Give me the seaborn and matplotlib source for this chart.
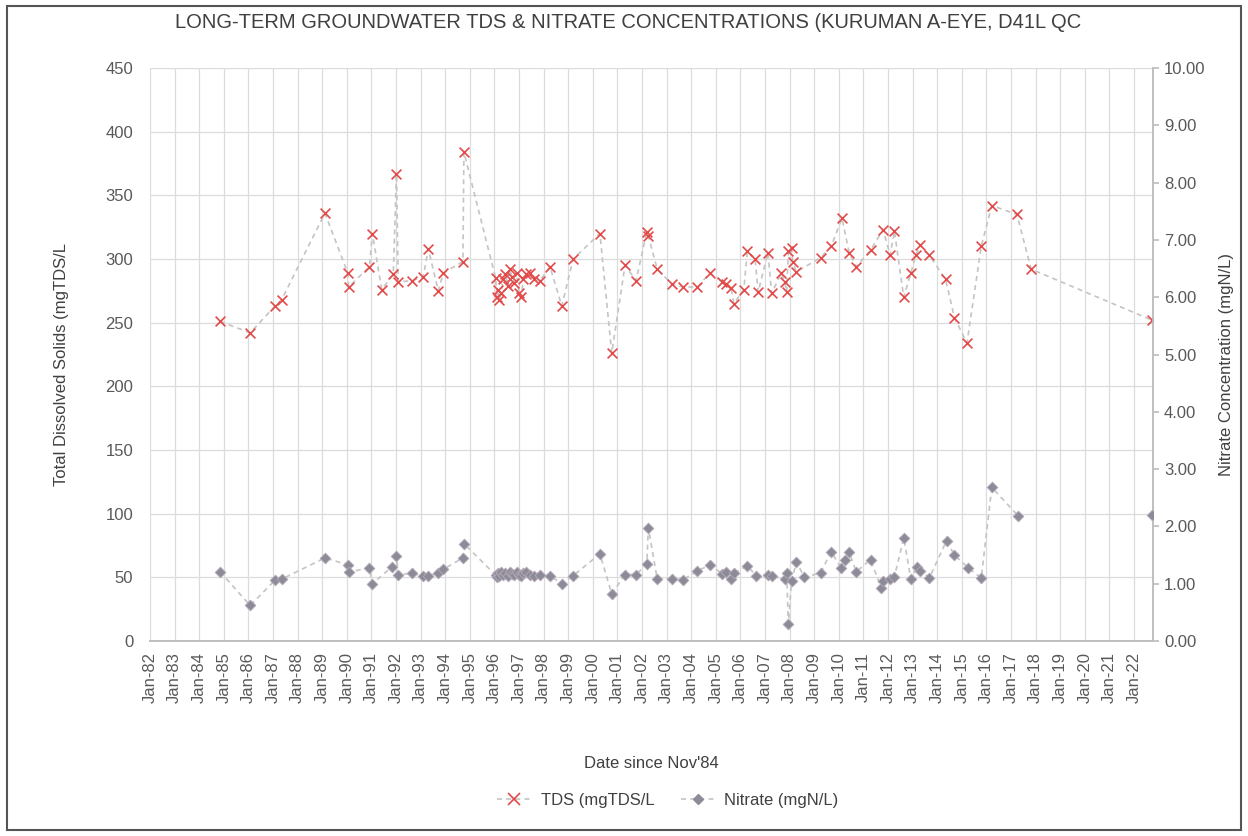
import matplotlib
matplotlib.use("Agg")
import matplotlib.pyplot as plt
from matplotlib.lines import Line2D
from matplotlib.patches import Rectangle
import pandas as pd
import seaborn as sns

# sample dates in decimal years
tds_dates = [1984.85, 1986.07, 1987.08, 1987.35, 1989.11, 1990.04, 1990.08, 1990.92,
             1991.04, 1991.42, 1991.89, 1992.02, 1992.09, 1992.64, 1993.11, 1993.31,
             1993.72, 1993.92, 1994.72, 1994.76,
             1996.05, 1996.10, 1996.15, 1996.20, 1996.28, 1996.35, 1996.45, 1996.55,
             1996.62, 1996.72, 1996.80, 1996.90, 1997.00, 1997.08, 1997.18, 1997.30,
             1997.45, 1997.60, 1997.85,
             1998.26, 1998.74, 1999.20, 2000.29, 2000.77, 2001.31, 2001.76, 2002.19,
             2002.26, 2002.62, 2003.23, 2003.67, 2004.25, 2004.76, 2005.27, 2005.41,
             2005.63, 2005.73, 2006.14, 2006.28, 2006.60, 2006.72, 2007.12, 2007.27,
             2007.66, 2007.80, 2007.88, 2007.95, 2008.08, 2008.12, 2008.28, 2009.26,
             2009.69, 2010.13, 2010.42, 2010.71, 2011.29, 2011.80, 2012.09, 2012.26,
             2012.64, 2012.93, 2013.13, 2013.32, 2013.68, 2014.34, 2014.70, 2015.21,
             2015.79, 2016.22, 2017.24, 2017.82, 2022.73]
tds_values = [251, 242, 263, 268, 336, 289, 278, 294,
              320, 276, 288, 367, 282, 283, 286, 308,
              275, 289, 298, 384,
              285, 270, 276, 268, 273, 284, 288, 279,
              292, 286, 281, 289, 273, 270, 284, 288,
              289, 284, 283,
              294, 263, 300, 320, 226, 295, 283, 321,
              318, 292, 280, 278, 278, 289, 282, 280,
              277, 265, 276, 306, 300, 274, 305, 273,
              289, 282, 274, 306, 309, 298, 290, 301,
              310, 332, 305, 294, 307, 323, 303, 322,
              270, 289, 303, 311, 303, 284, 254, 234,
              310, 342, 335, 292, 252]

no3_dates = [1984.85, 1986.07, 1987.08, 1987.35, 1989.11, 1990.04, 1990.08, 1990.92,
             1991.04, 1991.85, 1992.02, 1992.09, 1992.64, 1993.11, 1993.31, 1993.72,
             1993.92, 1994.72, 1994.76,
             1996.05, 1996.10, 1996.15, 1996.20, 1996.28, 1996.35, 1996.45, 1996.55,
             1996.62, 1996.72, 1996.80, 1996.90, 1997.00, 1997.08, 1997.18, 1997.30,
             1997.45, 1997.60, 1997.85,
             1998.26, 1998.74, 1999.20, 2000.29, 2000.77, 2001.31, 2001.76, 2002.19,
             2002.26, 2002.62, 2003.23, 2003.67, 2004.25, 2004.76, 2005.27, 2005.41,
             2005.63, 2005.73, 2006.28, 2006.64, 2007.12, 2007.27, 2007.80, 2007.88,
             2007.95, 2008.08, 2008.28, 2008.60, 2009.26, 2009.69, 2010.08, 2010.27,
             2010.42, 2010.71, 2011.29, 2011.73, 2011.80, 2012.09, 2012.26, 2012.64,
             2012.93, 2013.18, 2013.32, 2013.68, 2014.38, 2014.70, 2015.25, 2015.79,
             2016.22, 2017.28, 2022.73]
no3_values = [1.21, 0.62, 1.06, 1.08, 1.45, 1.33, 1.20, 1.28,
              1.00, 1.30, 1.48, 1.16, 1.18, 1.13, 1.14, 1.18,
              1.25, 1.45, 1.70,
              1.15, 1.12, 1.18, 1.14, 1.20, 1.16, 1.19, 1.13,
              1.21, 1.17, 1.15, 1.20, 1.16, 1.13, 1.18, 1.21,
              1.16, 1.14, 1.15,
              1.14, 1.00, 1.14, 1.52, 0.82, 1.16, 1.16, 1.34,
              1.97, 1.08, 1.08, 1.07, 1.22, 1.33, 1.17, 1.20,
              1.08, 1.18, 1.31, 1.14, 1.16, 1.13, 1.08, 1.18,
              0.30, 1.05, 1.38, 1.11, 1.19, 1.56, 1.28, 1.41,
              1.55, 1.21, 1.42, 0.92, 1.05, 1.08, 1.12, 1.80,
              1.08, 1.29, 1.23, 1.10, 1.75, 1.50, 1.28, 1.10,
              2.68, 2.19, 2.20]

years = list(range(1982, 2023))
year_labels = [f"Jan-{y % 100:02d}" for y in years]

tds = pd.DataFrame({"date": tds_dates, "TDS": tds_values})
no3 = pd.DataFrame({"date": no3_dates, "Nitrate": no3_values})

sns.set_theme(style="whitegrid")
plt.rcParams['font.family'] = ['Liberation Sans', 'DejaVu Sans']

tick_col = '#595959'
grid_col = '#dcdcdc'
line_col = '#c4c4c4'
tds_col = '#e34a4a'
no3_col = '#8c8c98'
dash = (0, (3, 2.5))

fig = plt.figure(figsize=(12.48, 8.36), dpi=100)
ax = fig.add_axes([150 / 1248, 1 - 641 / 836, (1153 - 150) / 1248, (641 - 68) / 836])
ax2 = ax.twinx()

# TDS on left axis
sns.lineplot(data=tds, x="date", y="TDS", ax=ax, estimator=None, color=line_col,
             linestyle=dash, linewidth=1.2)
sns.scatterplot(data=tds, x="date", y="TDS", ax=ax, marker="x", color=tds_col,
                s=50, linewidth=1.2, zorder=4)

# Nitrate on right axis (line stops after 2017, last sample stands alone)
sns.lineplot(data=no3.iloc[:-1], x="date", y="Nitrate", ax=ax2, estimator=None,
             color=line_col, linestyle=dash, linewidth=1.2)
sns.scatterplot(data=no3, x="date", y="Nitrate", ax=ax2, marker="D", color=no3_col,
                s=30, edgecolor='#b8a8b8', linewidth=0.6, zorder=4)

ax.set_xlim(1982, 1982 + (1153 - 150) / 24.6)
ax.set_ylim(0, 450)
ax2.set_ylim(0, 10)
ax.set_xticks(years)
ax.set_xticklabels(year_labels, rotation=90)
ax.set_xticks([y + q / 4 for y in range(1982, 2023) for q in (1, 2, 3)], minor=True)
ax.set_yticks(range(0, 451, 50))
ax2.set_yticks(range(0, 11))
ax2.set_yticklabels([f"{v:.2f}" for v in range(0, 11)])

ax.grid(True, which='major', color=grid_col, linewidth=0.9)
ax.grid(False, which='minor')
ax2.grid(False)
ax.set_xlabel("")
ax.set_ylabel("")
ax2.set_ylabel("")

ax.tick_params(axis='y', labelsize=12, colors=tick_col, length=0, pad=12)
ax.tick_params(axis='x', which='major', labelsize=12, colors=tick_col, length=4,
               direction='in', pad=8)
ax.tick_params(axis='x', which='minor', length=2.5, direction='in', color='#bfbfbf')
ax2.tick_params(axis='y', labelsize=12, colors=tick_col, length=4, color='#bfbfbf', pad=4)

for a in (ax, ax2):
    for side in ('top', 'left'):
        a.spines[side].set_visible(False)
    a.spines['bottom'].set_color('#bfbfbf')
    a.spines['right'].set_color('#bfbfbf')

fig.text(628 / 1248, 1 - 22 / 836,
         "LONG-TERM GROUNDWATER TDS & NITRATE CONCENTRATIONS (KURUMAN A-EYE, D41L QC",
         ha='center', va='center', fontsize=14.5, color='#404040')
fig.text(62 / 1248, 1 - 365 / 836, "Total Dissolved Solids (mgTDS/L", rotation=90,
         ha='center', va='center', fontsize=12, color='#404040')
fig.text(1226 / 1248, 1 - 365 / 836, "Nitrate Concentration (mgN/L)", rotation=90,
         ha='center', va='center', fontsize=12, color='#404040')
fig.text(651 / 1248, 1 - 763 / 836, "Date since Nov'84", ha='center', va='center',
         fontsize=12, color='#404040')

handles = [
    Line2D([], [], color=line_col, linestyle=dash, linewidth=1.2,
           marker='x', markersize=8, markeredgecolor=tds_col, markeredgewidth=1.2),
    Line2D([], [], color=line_col, linestyle=dash, linewidth=1.2,
           marker='D', markersize=5, markerfacecolor=no3_col, markeredgecolor=no3_col),
]
fig.legend(handles, ["TDS (mgTDS/L", "Nitrate (mgN/L)"], loc='center', ncol=2,
           bbox_to_anchor=(668 / 1248, 1 - 800 / 836), frameon=False, fontsize=12,
           handlelength=2.0, handletextpad=0.6, columnspacing=1.6, labelcolor='#404040')

fig.patches.append(Rectangle((7 / 1248, 6 / 836), 1234 / 1248, 824 / 836,
                             transform=fig.transFigure, fill=False,
                             edgecolor='#555555', linewidth=1.5))

fig.savefig("out.png", dpi=100)
